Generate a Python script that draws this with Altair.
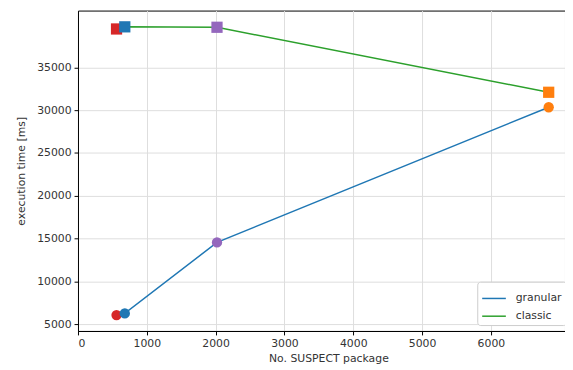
import altair as alt
import pandas as pd

packages = [560, 680, 2020, 6840]
granular_ms = [6050, 6250, 14550, 30350]
classic_ms = [39500, 39750, 39700, 32100]
series_names = ["granular", "classic"]
series_colors = ["#1f77b4", "#2ca02c"]
point_colors = ["#d62728", "#1f77b4", "#9467bd", "#ff7f0e"]
x_ticks = [0, 1000, 2000, 3000, 4000, 5000, 6000]
y_ticks = [5000, 10000, 15000, 20000, 25000, 30000, 35000]

rows = []
for i, p in enumerate(packages):
    rows.append({"pkg": p, "ms": granular_ms[i], "series": "granular", "run": i})
for i, p in enumerate(packages):
    rows.append({"pkg": p, "ms": classic_ms[i], "series": "classic", "run": i})
df = pd.DataFrame(rows)

x = alt.X("pkg:Q",
          scale=alt.Scale(domain=[0, 7077], nice=False, zero=False),
          axis=alt.Axis(values=x_ticks, title="No. SUSPECT package", format="d",
                        titleX=254, titlePadding=4))
y = alt.Y("ms:Q",
          scale=alt.Scale(domain=[4193, 41650], nice=False, zero=False),
          axis=alt.Axis(values=y_ticks, title="execution time [ms]", format="d",
                        titlePadding=10))

base = alt.Chart(df)

lines = base.mark_line(strokeWidth=1.5).encode(
    x=x, y=y,
    color=alt.Color("series:N",
                    scale=alt.Scale(domain=series_names, range=series_colors),
                    legend=alt.Legend(orient="none", legendX=405, legendY=275,
                                      title=None, fillColor="white",
                                      strokeColor="#cccccc", padding=4,
                                      cornerRadius=3, symbolType="stroke",
                                      symbolSize=576, symbolStrokeWidth=1.5,
                                      labelFontSize=11, labelOffset=9,
                                      rowPadding=-7, labelColor="#333333",
                                      labelFont="DejaVu Sans")),
    detail="series:N",
)

pt_color = alt.Color("run:O", scale=alt.Scale(domain=[0, 1, 2, 3], range=point_colors),
                     legend=None)

circles = base.transform_filter(alt.datum.series == "granular").mark_circle(
    size=110, opacity=1).encode(x=x, y=y, color=pt_color)

squares = base.transform_filter(alt.datum.series == "classic").mark_square(
    size=130, opacity=1).encode(x=x, y=y, color=pt_color)

chart = alt.layer(lines, circles, squares).resolve_scale(color="independent").properties(
    width=494, height=325,
    autosize=alt.AutoSizeParams(type="none"),
    padding={"left": 71, "top": 0, "right": 0, "bottom": 40},
).configure_view(stroke="black", strokeWidth=1).configure_axis(
    domainColor="black", tickColor="black", gridColor="#dddddd",
    labelFont="DejaVu Sans", labelFontSize=11, labelColor="#333333",
    titleFont="DejaVu Sans", titleFontSize=11, titleFontWeight="normal",
    titleColor="#333333", tickSize=4, labelPadding=3,
)

chart.save("out.html", embed_options={"renderer": "svg", "actions": False})
